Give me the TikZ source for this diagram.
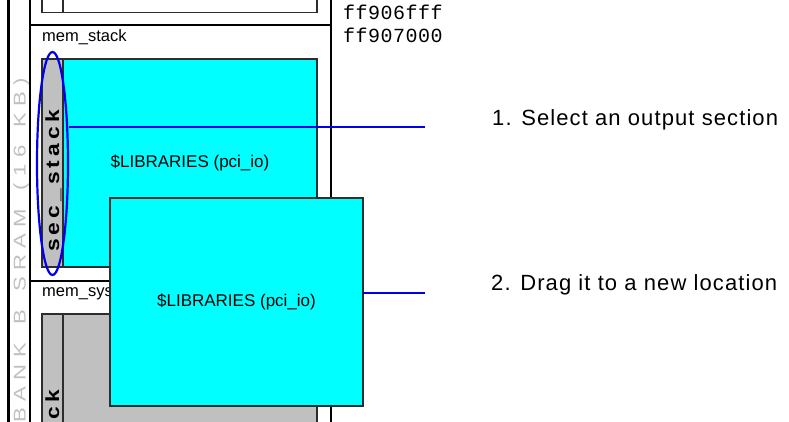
\documentclass[tikz,border=0pt]{standalone}
\usepackage{fontspec}
\setmainfont{Liberation Sans}
\newfontfamily\monof[LetterSpace=2.5]{Liberation Mono}
\newfontfamily\labf[LetterSpace=5]{Liberation Sans}
\usetikzlibrary{shapes.geometric}
\definecolor{cy}{RGB}{0,255,255}
\definecolor{gr}{RGB}{192,192,192}
\definecolor{bl}{RGB}{0,0,235}
\definecolor{edge}{RGB}{45,45,45}
\definecolor{banktext}{RGB}{192,192,192}
\newcommand{\gb}{\kern4.8pt\relax}
\newcommand{\gs}{\kern3.4pt\relax}
\begin{document}
\begin{tikzpicture}[x=1pt,y=-1pt,
  box/.style={draw=edge, line width=1.3pt, inner sep=0pt, outer sep=0pt, anchor=north west},
  frame/.style={line width=1.6pt, draw=black},
  thick frame/.style={line width=2.2pt, draw=black},
  bline/.style={draw=bl, line width=2pt},
  memlabel/.style={anchor=base west, inner sep=0pt, font=\fontsize{16.5}{18}\selectfont},
  libtext/.style={inner sep=0pt, font=\fontsize{17}{19}\selectfont},
  striptext/.style={rotate=90, inner sep=0pt, font=\bfseries\fontsize{19}{19}\selectfont},
  hextext/.style={anchor=base west, inner sep=0pt, font=\monof\fontsize{20}{20}\selectfont},
  steptext/.style={anchor=base west, inner sep=0pt, font=\labf\fontsize{22}{24}\selectfont}
]
\useasboundingbox (0,0) rectangle (789,421);
\begin{scope}
\clip (0,0) rectangle (789,421);
% bank frame
\draw[thick frame] (8.5,-5) -- (8.5,430);
\draw[frame] (30,-5) -- (30,430);
\draw[thick frame] (331,-5) -- (331,430);
\node[rotate=90, anchor=base east, inner sep=0pt, text=banktext,
      font=\fontsize{17}{17}\selectfont] (bank) at (25.5,77.5)
  {\scalebox{1.3}[1]{B\gb A\gb N\gb K\gb\ \gb B\gb\ \gb S\gb R\gb A\gb M\gb\ \gb (\gb 1\gb 6\gb\ \gb K\gb B\gb )}};
% section above
\draw[line width=1.3pt, draw=edge] (42,-5) -- (42,12.5) -- (317,12.5) -- (317,-5);
\draw[line width=1.1pt, draw=edge] (63,-5) -- (63,12.5);
\draw[frame] (30,25) -- (331,25);
\draw[frame] (30,281) -- (331,281);
% mem_stack
\node[memlabel] (ms) at (42,41) {mem\_stack};
\node[box, fill=cy, minimum width=275pt, minimum height=208pt] (sec1) at (42,59) {};
\node[box, fill=gr, minimum width=21pt, minimum height=208pt] (strip1) at (42,59) {};
\node[striptext, anchor=base west] (sl) at (59,252) {\scalebox{1.2}[1]{s\gs e\gs c\gs\_\gs s\gs t\gs a\gs c\gs k}};
\node[libtext] (lib1) at (190,163) {\$LIBRARIES (pci\_io)};
\node[draw=bl, line width=2.2pt, ellipse, inner sep=0pt, minimum width=31pt, minimum height=223pt] (ell) at (52.5,163.5) {};
\coordinate (e1) at (425,127);
\draw[bline] (ell.east |- e1) -- (e1);
% mem_sys
\node[memlabel] (msys) at (42,296) {mem\_sys};
\node[box, fill=gr, minimum width=275pt, minimum height=130pt] (sys) at (42,314) {};
\node[box, fill=gr, minimum width=21pt, minimum height=130pt] (strip2) at (42,314) {};
\node[striptext, anchor=base east] (ck) at (59,390) {\scalebox{1.2}[1]{c\gs k}};
% dragged section
\node[box, fill=cy, line width=1.5pt, minimum width=253pt, minimum height=208pt] (box2) at (110,198) {};
\node[libtext] (lib2) at (236.5,302) {\$LIBRARIES (pci\_io)};
\coordinate (e2) at (425,293);
\draw[bline] (box2.east |- e2) -- (e2);
% addresses
\node[hextext] (h1) at (343,19) {ff906fff};
\node[hextext] (h2) at (343,42) {ff907000};
\end{scope}
% step labels
\node[steptext] (s1) at (492,125) {1. Select an output section};
\node[steptext] (s2) at (491,290) {2. Drag it to a new location};
\end{tikzpicture}
\end{document}
